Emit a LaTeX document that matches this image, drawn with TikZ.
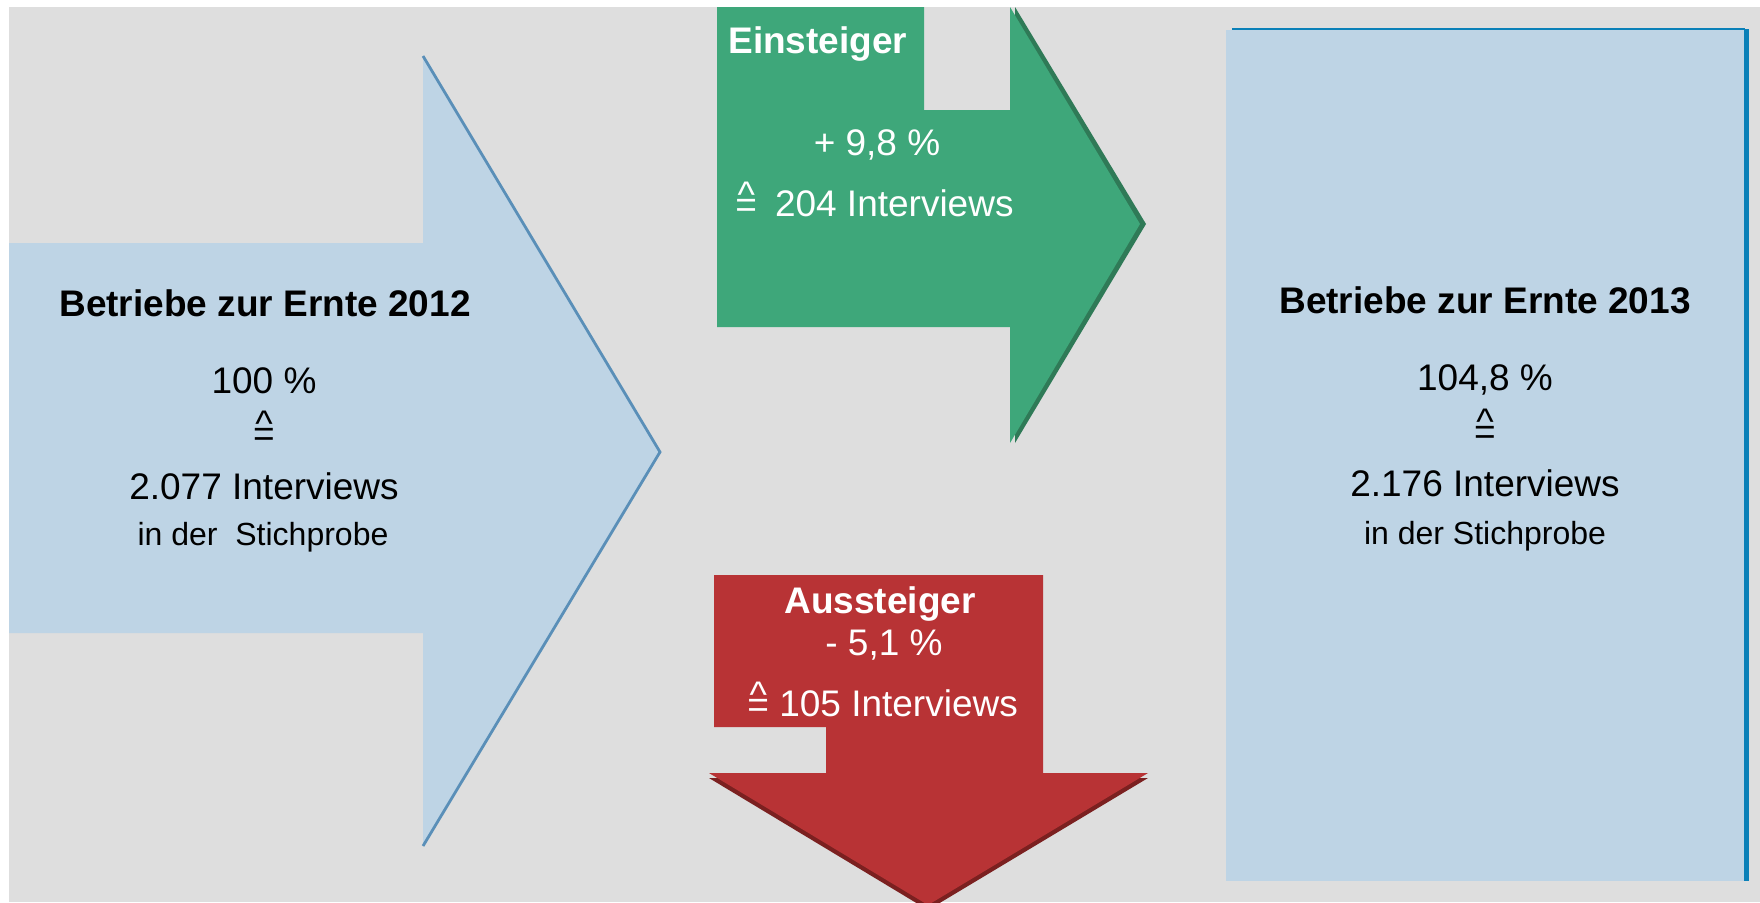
\documentclass[tikz,border=0pt]{standalone}
\usepackage{fontspec}
\setmainfont{Liberation Sans}
\usepackage{tikz}
\usetikzlibrary{positioning}

\definecolor{bgGrey}{HTML}{DEDEDE}
\definecolor{lightBlue}{HTML}{BED4E5}
\definecolor{edgeBlue}{HTML}{5A8FB8}
\definecolor{frameBlue}{HTML}{0A80B8}
\definecolor{inGreen}{HTML}{3EA77A}
\definecolor{inGreenDark}{HTML}{2F7A57}
\definecolor{outRed}{HTML}{B83335}
\definecolor{outRedDark}{HTML}{7B2020}

% "entspricht" sign: caret over equals
\newcommand{\entspr}{\ooalign{\raisebox{-0.05em}{=}\cr\hidewidth\smash{\raisebox{0.22em}{\textasciicircum}}\hidewidth\cr}}

\tikzset{
    txt/.style={font=\fontsize{18.5}{22}\selectfont, inner sep=0pt, anchor=base},
    boldtxt/.style={txt, font=\fontsize{18.5}{22}\selectfont\bfseries},
    smalltxt/.style={txt, font=\fontsize{16}{19}\selectfont},
    whitetxt/.style={text=white}
}

\begin{document}
\begin{tikzpicture}[x=0.5pt,y=-0.5pt]
        \useasboundingbox (0,0) rectangle (1760,902);

        % Background
        \fill[bgGrey] (9,7) rectangle (1760,902);

        %%% Left arrow (2012)
        \begin{scope}
            % Shape
            \fill[lightBlue] (9,243) -- (423,243) -- (423,56) -- (660,452)
                -- (423,846) -- (423,633) -- (9,633) -- cycle;
            \draw[edgeBlue,line width=1.4pt] (423,56) -- (660,452) -- (423,846);

            % Labels
            \node[boldtxt] (leftTitle) at (265,316) {Betriebe zur Ernte 2012};
            \node[txt] (leftPct) at (264,393) {100 \%};
            \node[txt] (leftEq) at (264,445) {\entspr};
            \node[txt] (leftCount) at (264,499) {2.077 Interviews};
            \node[smalltxt] (leftNote) at (263,545) {in der~ Stichprobe};
        \end{scope}

        %%% Einsteiger arrow
        \begin{scope}
            % Shape
            \fill[inGreenDark] (1015,7) -- (1146,224) -- (1015,443) -- cycle;
            \fill[inGreen] (717,7) -- (924,7) -- (924,110) -- (1010,110) -- (1010,7)
                -- (1140,224) -- (1010,443) -- (1010,327) -- (717,327) -- cycle;

            % Labels
            \node[boldtxt,whitetxt,anchor=base west] (inTitle) at (728,53) {Einsteiger};
            \node[txt,whitetxt] (inPct) at (877,155) {+ 9,8 \%};
            \node[txt,whitetxt,anchor=base west] (inCount) at (735,216) {\entspr\hspace{9pt}204 Interviews};
        \end{scope}

        %%% Aussteiger arrow
        \begin{scope}
            % Shape
            \fill[outRedDark] (709,778) -- (1148,778) -- (928,910) -- cycle;
            \fill[outRed] (714,575) -- (1043,575) -- (1043,773) -- (1148,773)
                -- (928,905) -- (709,773) -- (826,773) -- (826,727) -- (714,727) -- cycle;

            % Labels
            \node[boldtxt,whitetxt] (outTitle) at (880,613) {Aussteiger};
            \node[txt,whitetxt] (outPct) at (884,655) {- 5,1 \%};
            \node[txt,whitetxt,anchor=base west] (outCount) at (747,716) {\entspr{} 105 Interviews};
        \end{scope}

        %%% Right box (2013)
        \begin{scope}
            % Shape
            \fill[lightBlue] (1226,30) rectangle (1745,881);
            \draw[frameBlue,line width=1pt] (1232,29) -- (1745,29);
            \draw[frameBlue,line width=2.5pt] (1746,29) -- (1746,881);

            % Labels
            \node[boldtxt] (rightTitle) at (1485,313) {Betriebe zur Ernte 2013};
            \node[txt] (rightPct) at (1485,390) {104,8 \%};
            \node[txt] (rightEq) at (1485,443) {\entspr};
            \node[txt] (rightCount) at (1485,496) {2.176 Interviews};
            \node[smalltxt] (rightNote) at (1485,544) {in der Stichprobe};
        \end{scope}
    \end{tikzpicture}
\end{document}
